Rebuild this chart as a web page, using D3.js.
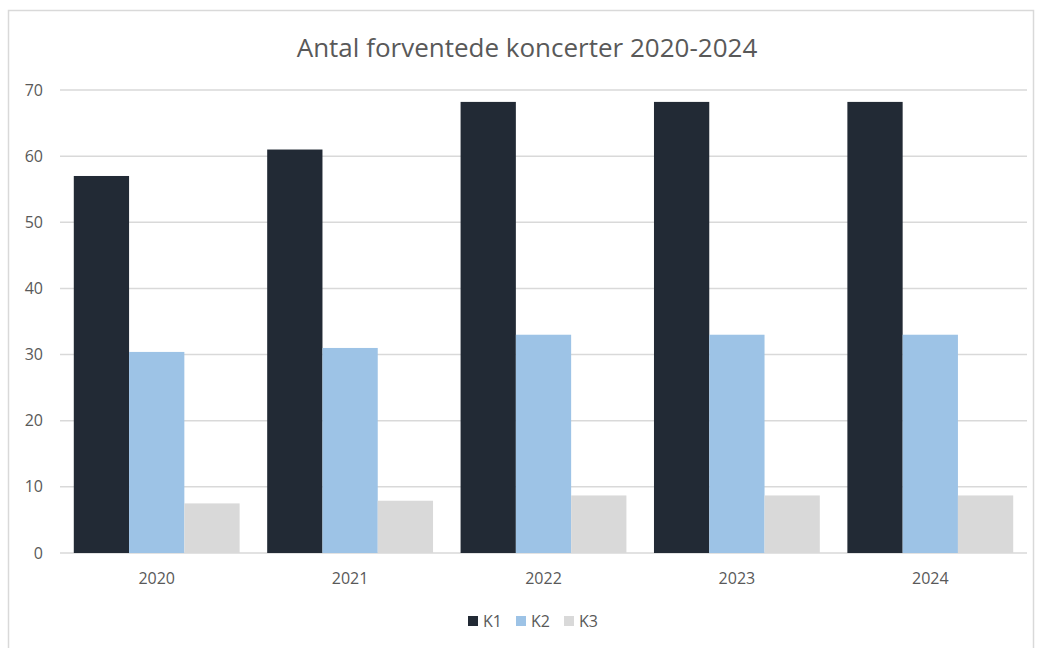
<!DOCTYPE html>
<html>
<head>
<meta charset="utf-8">
<script src="https://cdn.jsdelivr.net/npm/d3@7"></script>
<style>
  body { margin: 0; background: #fff; }
  svg { display: block; font-family: 'Open Sans', 'Noto Sans', sans-serif; }
</style>
</head>
<body>
<div id="chart"></div>
<script>
let years = ['2020', '2021', '2022', '2023', '2024'];
let seriesNames = ['K1', 'K2', 'K3'];
let k1 = [57, 61, 68.2, 68.2, 68.2];
let k2 = [30.4, 31, 33, 33, 33];
let k3 = [7.5, 7.9, 8.7, 8.7, 8.7];
let yTicks = [0, 10, 20, 30, 40, 50, 60, 70];
let colors = ['#222a35', '#9dc3e6', '#d9d9d9'];

let width = 1039, height = 648;
let margin = { left: 60, right: 12, top: 90, bottom: 95 };

let svg = d3.select('#chart').append('svg')
            .attr('width', width)
            .attr('height', height);

// outer chart border
svg.append('rect')
   .attr('x', 8.5).attr('y', 10.5)
   .attr('width', 1025).attr('height', 660)
   .attr('fill', 'none')
   .attr('stroke', '#d9d9d9')
   .attr('stroke-width', 1.5);

let xScale = d3.scaleBand()
               .domain(years)
               .range([margin.left, width - margin.right])
               .paddingInner(0.1425)
               .paddingOuter(0.0713);
let subScale = d3.scaleBand()
                 .domain(seriesNames)
                 .range([0, xScale.bandwidth()]);
let yScale = d3.scaleLinear()
               .domain([0, 70])
               .range([height - margin.bottom, margin.top]);

// gridlines
svg.append('g')
   .attr('class', 'grid')
   .selectAll('line')
   .data(yTicks)
   .enter()
   .append('line')
   .attr('x1', margin.left)
   .attr('x2', width - margin.right)
   .attr('y1', v => yScale(v))
   .attr('y2', v => yScale(v))
   .attr('stroke', '#d9d9d9')
   .attr('stroke-width', 1.5);

// y labels
svg.append('g')
   .selectAll('text')
   .data(yTicks)
   .enter()
   .append('text')
   .attr('x', 43)
   .attr('y', v => yScale(v))
   .attr('dy', '0.35em')
   .attr('text-anchor', 'end')
   .style('font-size', '16px')
   .style('fill', '#595959')
   .text(v => v);

// bars
let data = years.map((y, i) => ({ year: y, values: [k1[i], k2[i], k3[i]] }));
let groups = svg.append('g')
                .selectAll('g')
                .data(data)
                .enter()
                .append('g')
                .attr('transform', d => `translate(${xScale(d.year)}, 0)`);
groups.selectAll('rect')
      .data(d => d.values.map((v, j) => ({ name: seriesNames[j], value: v, color: colors[j] })))
      .enter()
      .append('rect')
      .attr('x', d => subScale(d.name))
      .attr('width', subScale.bandwidth())
      .attr('y', d => yScale(d.value))
      .attr('height', d => yScale(0) - yScale(d.value))
      .attr('fill', d => d.color);

// x labels
svg.append('g')
   .selectAll('text')
   .data(years)
   .enter()
   .append('text')
   .attr('x', v => xScale(v) + xScale.bandwidth() / 2)
   .attr('y', 584)
   .attr('text-anchor', 'middle')
   .style('font-size', '16px')
   .style('fill', '#595959')
   .text(v => v);

// title
svg.append('text')
   .attr('x', 527)
   .attr('y', 57)
   .attr('text-anchor', 'middle')
   .style('font-size', '26px')
   .style('fill', '#595959')
   .text('Antal forventede koncerter 2020-2024');

// legend
let legend = svg.append('g');
let legendX = [468, 516, 564];
seriesNames.forEach((name, i) => {
  legend.append('rect')
        .attr('x', legendX[i]).attr('y', 616)
        .attr('width', 10).attr('height', 10)
        .attr('fill', colors[i]);
  legend.append('text')
        .attr('x', legendX[i] + 15)
        .attr('y', 627)
        .style('font-size', '16px')
        .style('fill', '#595959')
        .text(name);
});
</script>
</body>
</html>
